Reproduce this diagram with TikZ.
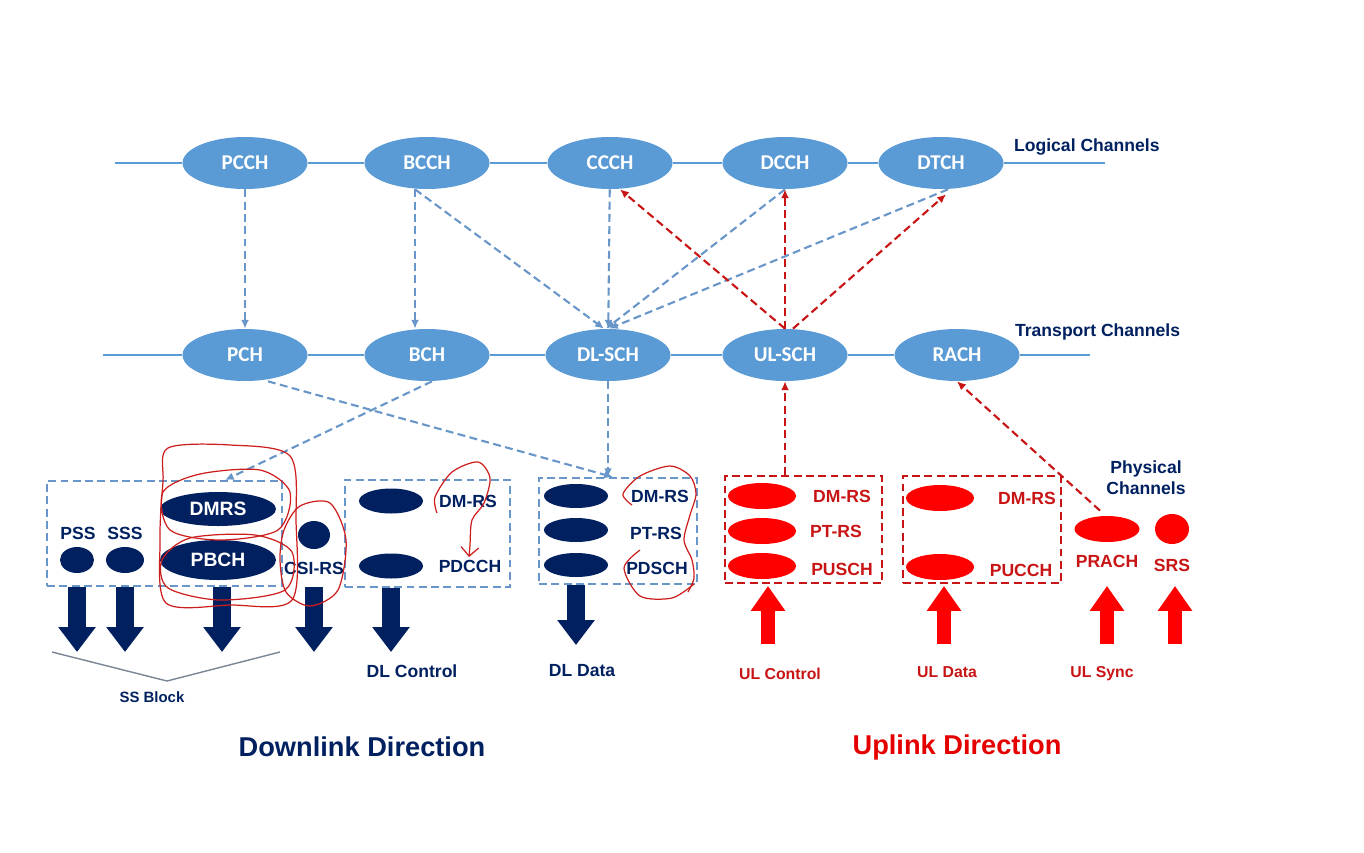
\documentclass[tikz,border=0pt]{standalone}
\usepackage{fontspec}
\setmainfont{Liberation Sans}
\newfontfamily\calfont{Carlito}
\usetikzlibrary{arrows.meta,positioning,shapes.geometric}
\definecolor{chblue}{RGB}{91,155,213}
\definecolor{dashblue}{RGB}{105,150,200}
\definecolor{navy}{RGB}{0,32,96}
\definecolor{ulred}{RGB}{255,0,0}
\definecolor{dred}{RGB}{200,20,20}
\definecolor{penred}{RGB}{205,30,30}

\begin{document}
\begin{tikzpicture}[x=0.02cm,y=-0.02cm,
    ch/.style={ellipse,fill=chblue,inner sep=0pt,minimum width=2.5cm,minimum height=1.04cm,
      text=white,font=\calfont\bfseries\fontsize{12}{14}\selectfont},
    chline/.style={chblue,line width=1.4pt},
    lnk/.style={dashblue,dashed,dash pattern=on 4.5pt off 2.5pt,line width=1.2pt,-{Latex[length=5pt,width=4.5pt]}},
    rlnk/.style={dred,dashed,dash pattern=on 4.5pt off 2.5pt,line width=1.2pt,-{Latex[length=5pt,width=4.5pt]}},
    dl/.style={ellipse,fill=navy,inner sep=0pt,minimum width=1.28cm,minimum height=0.5cm},
    ul/.style={ellipse,fill=ulred,inner sep=0pt,minimum width=1.36cm,minimum height=0.52cm},
    dlbox/.style={draw=dashblue,dashed,dash pattern=on 4.5pt off 2.5pt,line width=1.1pt,inner sep=0pt},
    ulbox/.style={draw=dred,dashed,dash pattern=on 4.5pt off 2.5pt,line width=1.1pt,inner sep=0pt},
    lbl/.style={text=navy,font=\bfseries\fontsize{10}{12}\selectfont,inner sep=1pt},
    rlbl/.style={text=dred,font=\bfseries\fontsize{10}{12}\selectfont,inner sep=1pt},
    dlarrow/.style={navy,line width=0.36cm,-{Triangle[width=0.72cm,length=0.5cm]}},
    ularrow/.style={ulred,line width=0.28cm,-{Triangle[width=0.66cm,length=0.5cm]}},
    scribble/.style={penred,line width=0.7pt}]
\useasboundingbox (0,0) rectangle (1364,852);

% logical channels
\coordinate (lstart) at (115,163);
\coordinate (lend) at (1105,163);
\node[ch] (pcch) at (245,163) {PCCH};
\node[ch] (bcch) at (427,163) {BCCH};
\node[ch] (ccch) at (610,163) {CCCH};
\node[ch] (dcch) at (785,163) {DCCH};
\node[ch] (dtch) at (941,163) {DTCH};
\draw[chline] (lstart) -- (pcch) -- (bcch) -- (ccch) -- (dcch) -- (dtch) -- (lend);
\node[lbl,anchor=west] (logical) at (1012,147) {Logical Channels};

% transport channels
\coordinate (tstart) at (103,355);
\coordinate (tend) at (1090,355);
\node[ch] (pch) at (245,355) {PCH};
\node[ch] (bch) at (427,355) {BCH};
\node[ch] (dlsch) at (608,355) {DL-SCH};
\node[ch] (ulsch) at (785,355) {UL-SCH};
\node[ch] (rach) at (957,355) {RACH};
\draw[chline] (tstart) -- (pch) -- (bch) -- (dlsch) -- (ulsch) -- (rach) -- (tend);
\node[lbl,anchor=west] (transport) at (1013,332) {Transport Channels};

% downlink mapping
\path[lnk] (pcch) edge (pch)
  ([xshift=-0.24cm]bcch.south) edge ([xshift=-0.24cm]bch.north)
  ([xshift=-0.24cm]bcch.south) edge ([xshift=-0.08cm]dlsch.north)
  (ccch) edge (dlsch)
  (dcch.south) edge ([xshift=-0.04cm]dlsch.north)
  ([xshift=0.14cm]dtch.south) edge ([xshift=0.02cm]dlsch.north);
% uplink mapping
\path[rlnk] (ulsch.north) edge ([xshift=0.2cm]ccch.south)
  (ulsch.north) edge (dcch.south)
  ([xshift=0.16cm]ulsch.north) edge ([xshift=0.1cm,yshift=-0.1cm]dtch.south);

% physical channels, downlink
\node[dlbox,minimum width=4.7cm,minimum height=2.1cm] (ssb) at (164.5,533.5) {};
\node[dl,minimum width=0.68cm,minimum height=0.52cm] (pss) at (77,560) {};
\node[lbl] (psst) at (78,533) {PSS};
\node[dl,minimum width=0.76cm,minimum height=0.52cm] (sss) at (125,560) {};
\node[lbl] (ssst) at (125,533) {SSS};
\node[dl,minimum width=2.32cm,minimum height=0.68cm,text=white,font=\bfseries\fontsize{11}{13}\selectfont] (dmrs) at (218,509) {DMRS};
\node[dl,minimum width=2.32cm,minimum height=0.8cm,text=white,font=\bfseries\fontsize{11}{13}\selectfont] (pbch) at (218,560) {PBCH};
\node[dl,minimum width=0.64cm,minimum height=0.56cm] (csirs) at (314,535) {};
\node[lbl] (csirst) at (314,568) {CSI-RS};

\node[dlbox,minimum width=3.3cm,minimum height=2.14cm] (dlctl) at (427.5,533.5) {};
\node[dl] (dlc1) at (391,501) {};
\node[dl] (dlc2) at (391,566) {};
\node[lbl] (dlc1t) at (468,501) {DM-RS};
\node[lbl] (dlc2t) at (470,566) {PDCCH};

\node[dlbox,minimum width=3.16cm,minimum height=2.12cm] (dldata) at (618,531) {};
\node[dl,minimum height=0.48cm] (dld1) at (576,496) {};
\node[dl,minimum height=0.48cm] (dld2) at (576,530) {};
\node[dl,minimum height=0.48cm] (dld3) at (576,565) {};
\node[lbl] (dld1t) at (660,496) {DM-RS};
\node[lbl] (dld2t) at (656,533) {PT-RS};
\node[lbl] (dld3t) at (657,568) {PDSCH};

\path[lnk] ([xshift=0.1cm]bch.south) edge ([xshift=1.21cm]ssb.north)
  ([xshift=0.46cm]pch.south) edge ([xshift=-0.1cm]dldata.north)
  (dlsch.south) edge (dlsch.south |- dldata.north);

% physical channels, uplink
\node[ulbox,minimum width=3.14cm,minimum height=2.14cm] (ulctl) at (803.5,529.5) {};
\node[ul] (ulc1) at (762,496) {};
\node[ul] (ulc2) at (762,531) {};
\node[ul] (ulc3) at (762,566) {};
\node[rlbl] (ulc1t) at (842,496) {DM-RS};
\node[rlbl] (ulc2t) at (836,531) {PT-RS};
\node[rlbl] (ulc3t) at (842,569) {PUSCH};

\node[ulbox,minimum width=3.16cm,minimum height=2.14cm] (uldata) at (982,529.5) {};
\node[ul] (uld1) at (940,498) {};
\node[ul] (uld2) at (940,567) {};
\node[rlbl] (uld1t) at (1027,498) {DM-RS};
\node[rlbl] (uld2t) at (1021,570) {PUCCH};

\node[ul,minimum width=1.3cm] (prach) at (1107,529) {};
\node[rlbl] (pracht) at (1107,561) {PRACH};
\node[ul,minimum width=0.68cm,minimum height=0.6cm] (srs) at (1172,529) {};
\node[rlbl] (srst) at (1172,565) {SRS};
\node[lbl,align=center] (physical) at (1146,478) {Physical\\Channels};

\path[rlnk] (ulsch.south |- ulctl.north) edge (ulsch.south)
  ([xshift=-0.14cm,yshift=0.1cm]prach.north) edge (rach.south);

% block arrows
\coordinate (dlend) at (0,652);
\coordinate (ulend) at (0,644);
\draw[dlarrow] (pss |- ssb.south) -- (pss |- dlend);
\draw[dlarrow] (sss |- ssb.south) -- (sss |- dlend);
\draw[dlarrow] ([xshift=0.08cm]pbch |- ssb.south) -- ([xshift=0.08cm]pbch |- dlend);
\draw[dlarrow] (csirs |- ssb.south) -- (csirs |- dlend);
\draw[dlarrow] (dlc2 |- dlctl.south) -- (dlc2 |- dlend);
\draw[dlarrow] (dld3 |- dldata.south) -- ([yshift=0.14cm]dld3 |- dlend);
\draw[ularrow] ([xshift=0.12cm]ulc3 |- ulend) -- ([xshift=0.12cm,yshift=-0.04cm]ulc3 |- ulctl.south);
\draw[ularrow] ([xshift=0.08cm]uld2 |- ulend) -- ([xshift=0.08cm,yshift=-0.04cm]uld2 |- uldata.south);
\draw[ularrow] (prach |- ulend) -- ([yshift=-0.04cm]prach |- ulctl.south);
\draw[ularrow] ([xshift=0.06cm]srs |- ulend) -- ([xshift=0.06cm,yshift=-0.04cm]srs |- ulctl.south);

% labels under arrows
\coordinate (brl) at (52,652);
\coordinate (brm) at (167,681);
\coordinate (brr) at (280,652);
\draw[gray!70!dashblue,line width=0.8pt] (brl) -- (brm) -- (brr);
\node[lbl,font=\bfseries\fontsize{8.5}{10}\selectfont] (ssblock) at (152,697) {SS Block};
\node[lbl] (dlcontrol) at (412,671) {DL Control};
\node[lbl] (dldatat) at (582,671) {DL Data};
\node[rlbl,font=\bfseries\fontsize{9}{11}\selectfont] (ulcontrol) at (780,674) {UL Control};
\node[rlbl,font=\bfseries\fontsize{9}{11}\selectfont] (uldatat) at (947,672) {UL Data};
\node[rlbl,font=\bfseries\fontsize{9}{11}\selectfont] (ulsync) at (1102,674) {UL Sync};

\node[text=navy,font=\bfseries\fontsize{15.5}{18}\selectfont] (downlink) at (362,747) {Downlink Direction};
\node[text=ulred!90!black,font=\bfseries\fontsize{15.5}{18}\selectfont] (uplink) at (957,747) {Uplink Direction};

% hand-drawn marks
\draw[scribble] plot[smooth cycle] coordinates {(168,448) (230,445) (290,456) (296,520) (292,600) (230,605) (166,603) (160,540) (163,482)};
\draw[scribble] plot[smooth cycle] coordinates {(163,492) (200,474) (260,470) (290,492) (278,530) (220,540) (170,530)};
\draw[scribble] plot[smooth cycle] coordinates {(162,560) (190,538) (255,535) (292,552) (285,590) (220,600) (168,588)};
\draw[scribble] plot[smooth cycle] coordinates {(284,530) (300,506) (330,503) (346,540) (338,590) (310,606) (286,592) (280,560)};
\draw[scribble,-{Straight Barb[length=5pt]}] plot[smooth] coordinates {(437,513) (435,497) (452,472) (478,462) (490,478) (484,503) (472,520) (470,545) (469,557)};
\draw[scribble] plot[smooth] coordinates {(632,505) (623,494) (640,476) (670,466) (690,476) (696,494) (690,515) (684,540) (692,560) (694,578) (688,592)};
\draw[scribble] plot[smooth] coordinates {(640,550) (624,568) (640,596) (672,598) (694,584)};
\end{tikzpicture}
\end{document}
